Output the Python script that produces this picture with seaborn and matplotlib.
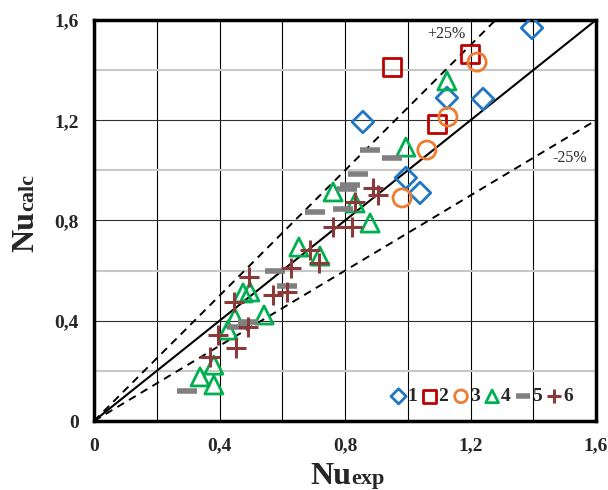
import numpy as np
import pandas as pd
import matplotlib
matplotlib.use("Agg")
import matplotlib.pyplot as plt
import seaborn as sns

# ---- data ----
s1_x = [1.396, 0.857, 1.125, 1.240, 0.994, 1.039]
s1_y = [1.568, 1.193, 1.289, 1.285, 0.970, 0.910]

s2_x = [0.950, 1.198, 1.093]
s2_y = [1.413, 1.465, 1.185]

s3_x = [1.221, 1.128, 1.061, 0.982]
s3_y = [1.432, 1.213, 1.081, 0.890]

s4_x = [1.125, 0.994, 0.762, 0.832, 0.880, 0.653, 0.720, 0.475, 0.497, 0.542, 0.449, 0.427, 0.382, 0.338, 0.382]
s4_y = [1.357, 1.093, 0.914, 0.870, 0.790, 0.694, 0.658, 0.511, 0.515, 0.423, 0.411, 0.363, 0.223, 0.176, 0.144]

s5_x = [0.296, 0.456, 0.491, 0.577, 0.615, 0.704, 0.794, 0.806, 0.816, 0.841, 0.880, 0.950]
s5_y = [0.120, 0.375, 0.395, 0.599, 0.539, 0.834, 0.846, 0.926, 0.942, 0.986, 1.081, 1.049]

s6_x = [0.889, 0.905, 0.832, 0.762, 0.822, 0.688, 0.717, 0.628, 0.570, 0.615, 0.494, 0.446, 0.491, 0.395, 0.453, 0.370]
s6_y = [0.930, 0.902, 0.874, 0.774, 0.774, 0.682, 0.630, 0.611, 0.503, 0.515, 0.575, 0.475, 0.375, 0.343, 0.291, 0.255]

labels = ["1", "2", "3", "4", "5", "6"]
tick_vals = [0, 0.4, 0.8, 1.2, 1.6]
tick_text = ["0", "0,4", "0,8", "1,2", "1,6"]

series = [(s1_x, s1_y), (s2_x, s2_y), (s3_x, s3_y), (s4_x, s4_y), (s5_x, s5_y), (s6_x, s6_y)]
colors = ["#1F77C4", "#C00000", "#ED7D31", "#00B050", "#808080", "#8B3A3A"]
markers = ["D", "s", "o", "^", "_", "+"]
sizes = [120, 170, 170, 170, 200, 200]
lws = [2.0, 2.0, 2.0, 2.0, 4.0, 2.2]

sns.set_theme(style="white")
plt.rcParams["font.family"] = ["Liberation Serif", "DejaVu Serif"]

W, H = 608, 490
fig = plt.figure(figsize=(W/100, H/100), dpi=100)
ax = fig.add_axes([94/W, 1-421/H, (596-94)/W, (421-20)/H])

# grid
for v in np.arange(0.2, 1.6, 0.2):
    ax.axvline(v, color="black", lw=0.8, zorder=0)
for k, v in enumerate(np.arange(0.2, 1.6, 0.2)):
    if k % 2 == 0:
        ax.axhline(v, color="#c8c8c8", lw=1.5, zorder=0)
    else:
        ax.axhline(v, color="#303030", lw=0.8, zorder=0)

# reference lines
ax.plot([0, 1.6], [0, 1.6], color="black", lw=1.5, zorder=1)
ax.plot([0, 1.6/1.25], [0, 1.6], color="black", lw=1.4, ls=(0, (4, 3)), zorder=1)
ax.plot([0, 1.6], [0, 1.2], color="black", lw=1.4, ls=(0, (4, 3)), zorder=1)

for (xs, ys), c, m, s, lw, lab in zip(series, colors, markers, sizes, lws, labels):
    df = pd.DataFrame({"x": xs, "y": ys})
    if m in ("_", "+"):
        sns.scatterplot(data=df, x="x", y="y", marker=m, s=s, color=c,
                        linewidth=lw, ax=ax, label=lab, zorder=3)
    else:
        sns.scatterplot(data=df, x="x", y="y", marker=m, s=s, facecolor="none",
                        edgecolor=c, linewidth=lw, ax=ax, label=lab, zorder=3)

ax.set_xlim(0, 1.6)
ax.set_ylim(0, 1.6)
ax.set_xticks(tick_vals)
ax.set_xticklabels(tick_text)
ax.set_yticks(tick_vals)
ax.set_yticklabels(tick_text)
ax.tick_params(length=0, labelsize=14)
ax.tick_params(axis="x", pad=12)
ax.tick_params(axis="y", pad=11)
for t in ax.get_xticklabels() + ax.get_yticklabels():
    t.set_fontweight("bold")
for sp in ax.spines.values():
    sp.set_color("black")
    sp.set_linewidth(2.5)
ax.set_xlabel("")
ax.set_ylabel("")

ax.text(1.122, 1.544, "+25%", fontsize=11.5, ha="center", va="center")
ax.text(1.517, 1.049, "-25%", fontsize=11.5, ha="center", va="center")

leg = ax.legend(loc="lower right", ncol=6, frameon=False, handletextpad=0.05,
                columnspacing=0.25, borderaxespad=0.4, fontsize=14,
                bbox_to_anchor=(0.985, 0.0), handlelength=0.8, markerscale=0.7)
for t in leg.get_texts():
    t.set_fontweight("bold")

# axis titles: large "Nu" followed by smaller suffix
fig.canvas.draw()
r = fig.canvas.get_renderer()
t1 = fig.text(310/W, 1-484/H, "Nu", fontsize=23, fontweight="bold", ha="left", va="baseline")
bb = t1.get_window_extent(r)
fig.text(bb.x1/W + 0.001, 1-484/H, "exp", fontsize=16, fontweight="bold", ha="left", va="baseline")

t2 = fig.text(33/W, 1-252/H, "Nu", fontsize=23, fontweight="bold", rotation=90,
              ha="left", va="baseline", rotation_mode="anchor")
bb2 = t2.get_window_extent(r)
fig.text(33/W, bb2.y1/H + 0.001, "calc", fontsize=16, fontweight="bold", rotation=90,
         ha="left", va="baseline", rotation_mode="anchor")

fig.savefig("out.png", dpi=100)
